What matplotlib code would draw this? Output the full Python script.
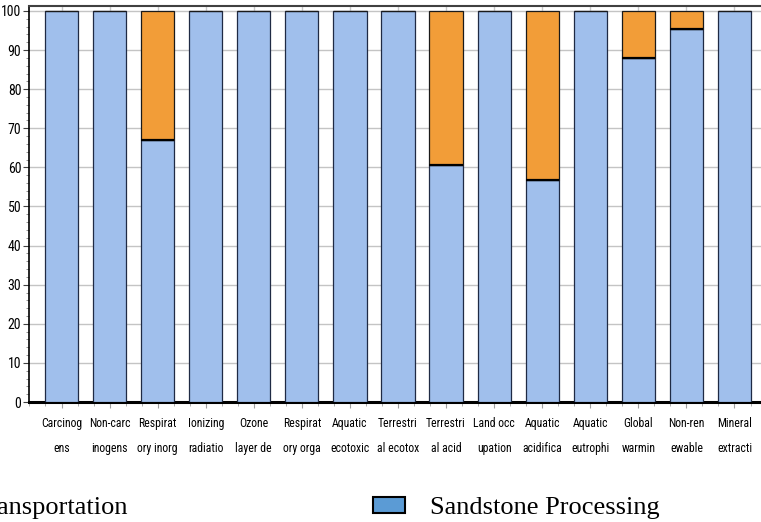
import matplotlib
matplotlib.use("Agg")
import matplotlib.pyplot as plt
from matplotlib.patches import Patch
from matplotlib.ticker import MultipleLocator
from matplotlib import font_manager as fm
import numpy as np

categories = ["Carcinog\nens", "Non-carc\ninogens", "Respirat\nory inorg", "Ionizing\nradiatio",
              "Ozone\nlayer de", "Respirat\nory orga", "Aquatic\necotoxic", "Terrestri\nal ecotox",
              "Terrestri\nal acid", "Land occ\nupation", "Aquatic\nacidifica", "Aquatic\neutrophi",
              "Global\nwarmin", "Non-ren\newable", "Mineral\nextracti"]
sandstone = [100, 100, 67.0, 100, 100, 100, 100, 100, 60.7, 100, 56.7, 100, 88.0, 95.5, 100]
transport = [100 - v for v in sandstone]
yticks = [0, 10, 20, 30, 40, 50, 60, 70, 80, 90, 100]

# choose a narrow font if available
names = {f.name for f in fm.fontManager.ttflist}
narrow_family, narrow_stretch = "DejaVu Sans", "normal"
found = False
for cand in ["Liberation Sans Narrow", "Roboto Condensed", "Open Sans Condensed"]:
    if cand in names:
        narrow_family, found = cand, True
        break
if not found:
    for f in fm.fontManager.ttflist:
        st = f.stretch
        if f.name == "DejaVu Sans" and (st == "condensed" or st == 75 or st == "semi-condensed"):
            narrow_family, narrow_stretch, found = "DejaVu Sans", "condensed", True
            break
if not found:
    for f in fm.fontManager.ttflist:
        if "Condensed" in f.name or "Narrow" in f.name:
            narrow_family, found = f.name, True
            break

def nfont(size):
    return fm.FontProperties(family=[narrow_family, "DejaVu Sans"], stretch=narrow_stretch, size=size)

W, H = 761, 522
fig = plt.figure(figsize=(W/100, H/100), dpi=100)
pitch = 48.07
x0 = 61.5
left_px = 29
top_px = 6
zero_px = 402
xmin = -(x0 - left_px)/pitch
xmax = 14 + (x0 - left_px)/pitch
ax_w = (xmax - xmin)*pitch/W
ax = fig.add_axes([left_px/W, (H-zero_px)/H, ax_w, (zero_px-top_px)/H])

x = np.arange(len(categories))
blue = "#A0BFEC"
orange = "#F29D38"
ax.bar(x, sandstone, width=0.69, color=blue, edgecolor="#1F2A44", linewidth=0.9, zorder=3)
ax.bar(x, transport, width=0.69, bottom=sandstone, color=orange, edgecolor="#1A1A1A", linewidth=0.9, zorder=3)
for xi, s, t in zip(x, sandstone, transport):
    if t > 0:
        ax.plot([xi-0.345, xi+0.345], [s, s], color="black", lw=1.6, zorder=4, solid_capstyle="butt")

ax.set_xlim(xmin, xmax)
ax.set_ylim(0, 100*(zero_px-top_px)/(zero_px-11))
ax.set_yticks(yticks)
ax.yaxis.set_minor_locator(MultipleLocator(2))
ax.set_xticks(x)
ax.set_xticks(np.arange(-2, 45)/3.0, minor=True)
ax.set_xticklabels(categories)
ax.grid(axis="y", color="#C4C4C4", lw=1.0, zorder=0)
ax.grid(axis="x", color="#C8C8C8", lw=1.0, zorder=0)

for lbl in ax.get_xticklabels():
    lbl.set_fontproperties(nfont(8.5))
    lbl.set_linespacing(2.15)
for lbl in ax.get_yticklabels():
    lbl.set_fontproperties(nfont(10))

ax.tick_params(axis="x", which="major", length=4, color="#A0A0A0", pad=7)
ax.tick_params(axis="x", which="minor", length=3, color="#A0A0A0")
ax.tick_params(axis="y", which="major", length=4, color="#404040", pad=1.5)
ax.tick_params(axis="y", which="minor", length=2, color="#808080")

ax.spines["left"].set_linewidth(1.2)
ax.spines["bottom"].set_linewidth(2.2)
ax.spines["top"].set_color("#404040")
ax.spines["top"].set_linewidth(1.5)
ax.spines["right"].set_visible(False)

handles = [Patch(facecolor=orange, edgecolor="black", lw=1.5, label="Transportation"),
           Patch(facecolor="#5B9BD5", edgecolor="black", lw=1.5, label="Sandstone Processing")]
fig.legend(handles=handles, ncol=2, loc="center right", bbox_to_anchor=(660/W, (H-508)/H),
           frameon=False, prop=dict(family="Liberation Serif", size=19),
           handlelength=1.21, handleheight=0.6, handletextpad=0.95, columnspacing=9.3,
           borderpad=0, borderaxespad=0)

fig.savefig("out.png", dpi=100)
